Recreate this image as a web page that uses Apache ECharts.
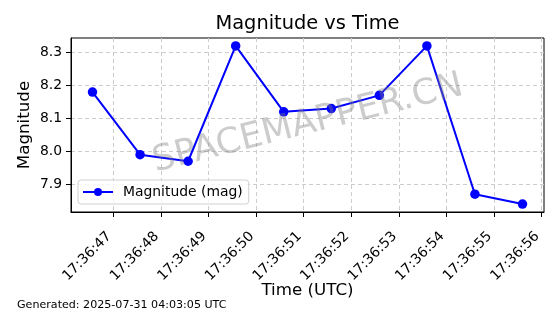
<!DOCTYPE html>
<html><head><meta charset="utf-8">
<script src="https://cdn.jsdelivr.net/npm/echarts@6/dist/echarts.min.js"></script>
<style>html,body{margin:0;padding:0;background:#fff}#c{width:560px;height:314px}</style>
</head><body><div id="c"></div>
<script>
// ---- data ----
const times = ['17:36:46.56','17:36:47.56','17:36:48.57','17:36:49.57','17:36:50.58',
               '17:36:51.58','17:36:52.59','17:36:53.59','17:36:54.60','17:36:55.60'];
const magnitudes = [8.18, 7.99, 7.97, 8.32, 8.12, 8.13, 8.17, 8.32, 7.87, 7.84];
const xTickLabels = ['17:36:47','17:36:48','17:36:49','17:36:50','17:36:51',
                     '17:36:52','17:36:53','17:36:54','17:36:55','17:36:56'];
const yTicks = [7.9, 8.0, 8.1, 8.2, 8.3];
const seriesName = 'Magnitude (mag)';
const generatedText = 'Generated: 2025-07-31 04:03:05 UTC';
const watermark = 'SPACEMAPPER.CN';

// ---- helpers ----
function toSec(t){ const p = t.split(':'); return (+p[0])*3600 + (+p[1])*60 + (+p[2]); }
function pad2(n){ return (n < 10 ? '0' : '') + n; }
function fmtSec(v){
  const s = Math.round(v);
  return pad2(Math.floor(s/3600)) + ':' + pad2(Math.floor(s/60)%60) + ':' + pad2(s%60);
}
const xs = times.map(toSec);
const xTickVals = xTickLabels.map(toSec);
const xLo = Math.min(...xs), xHi = Math.max(...xs), xPad = 0.05*(xHi-xLo);
const yLo = Math.min(...magnitudes), yHi = Math.max(...magnitudes), yPad = 0.05*(yHi-yLo);
const data = xs.map((x,i) => [x, magnitudes[i]]);

const FONT = 'DejaVu Sans';
const chart = echarts.init(document.getElementById('c'), null, {renderer:'canvas'});
chart.setOption({
  animation: false,
  backgroundColor: '#fff',
  textStyle: {fontFamily: FONT},
  grid: {left: 71, top: 38, width: 473, height: 174, show: true, borderColor: '#000', borderWidth: 1, backgroundColor: 'transparent', containLabel: false},
  xAxis: {
    type: 'value', min: xLo - xPad, max: xHi + xPad,
    name: 'Time (UTC)', nameLocation: 'middle', nameGap: 70, nameMoveOverlap: false,
    nameTextStyle: {fontFamily: FONT, fontSize: 16.7, color: '#000'},
    axisLine: {show: true, onZero: false, lineStyle: {color: '#000', width: 1}},
    axisTick: {show: true, inside: false, length: 5, lineStyle: {color: '#000', width: 1}, customValues: xTickVals},
    axisLabel: {show: true, rotate: 45, margin: 18, padding: [0, 6, 0, 0], fontFamily: FONT, fontSize: 13.9, color: '#000',
                customValues: xTickVals, formatter: v => fmtSec(v)},
    splitLine: {show: true, lineStyle: {color: '#cccccc', type: [4,3], width: 1}}
  },
  yAxis: {
    type: 'value', min: yLo - yPad, max: yHi + yPad,
    name: 'Magnitude', nameLocation: 'middle', nameGap: 38, nameMoveOverlap: false,
    nameTextStyle: {fontFamily: FONT, fontSize: 16.7, color: '#000'},
    axisLine: {show: true, onZero: false, lineStyle: {color: '#000', width: 1}},
    axisTick: {show: true, inside: false, length: 5, lineStyle: {color: '#000', width: 1}, customValues: yTicks},
    axisLabel: {show: true, margin: 9, fontFamily: FONT, fontSize: 13.9, color: '#000',
                customValues: yTicks, formatter: v => v.toFixed(1)},
    splitLine: {show: true, lineStyle: {color: '#cccccc', type: [4,3], width: 1}}
  },
  legend: {
    show: true, left: 78, top: 180, orient: 'vertical',
    padding: [5, 6, 5, 4], itemWidth: 30, itemHeight: 10, itemGap: 5,
    backgroundColor: 'rgba(255,255,255,0.8)', borderColor: '#d0d0d0', borderWidth: 1, borderRadius: 3,
    textStyle: {fontFamily: FONT, fontSize: 13.9, color: '#000', padding: [0,0,0,5]},
    data: [seriesName]
  },
  graphic: [
    {type: 'text', x: 307.5, y: 24, silent: true,
     style: {text: 'Magnitude vs Time', fontFamily: FONT, fontSize: 19.4, fill: '#000', textAlign: 'center', textVerticalAlign: 'middle'}},
    {type: 'text', x: 17, y: 305, silent: true,
     style: {text: generatedText, fontFamily: FONT, fontSize: 11.1, fill: '#000', textAlign: 'left', textVerticalAlign: 'middle'}},
    {type: 'text', x: 308, y: 124, rotation: 14*Math.PI/180, silent: true, z: 100,
     style: {text: watermark, fontFamily: FONT, fontSize: 35.5, fill: 'rgba(128,128,128,0.4)', textAlign: 'center', textVerticalAlign: 'middle'}}
  ],
  series: [{
    name: seriesName, type: 'line', data: data,
    symbol: 'circle', symbolSize: 9.5, showSymbol: true,
    itemStyle: {color: '#0000ff'}, lineStyle: {color: '#0000ff', width: 2}
  }]
});
</script></body></html>
